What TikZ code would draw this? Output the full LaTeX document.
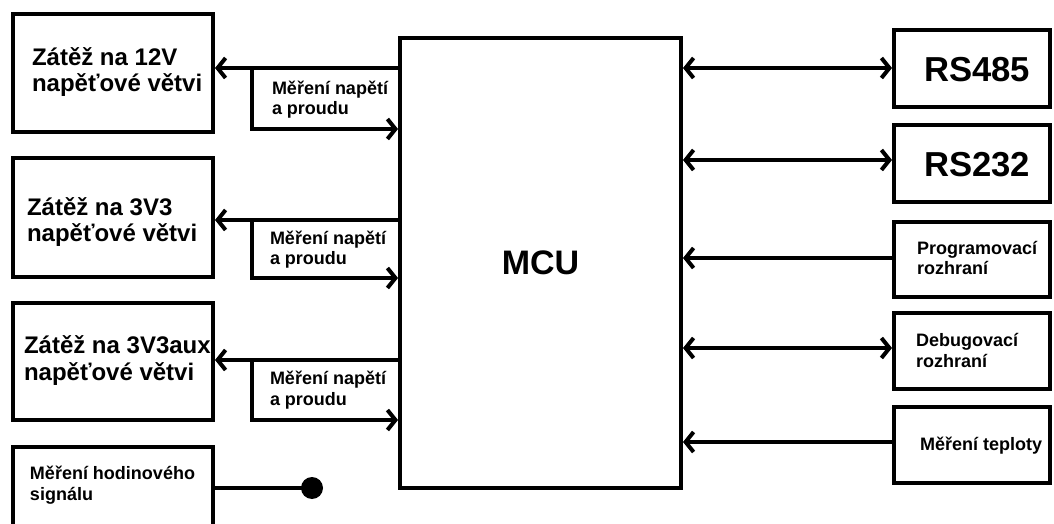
\documentclass[tikz,border=0pt]{standalone}
\usepackage{fontspec}
\setmainfont{Liberation Sans}
\usetikzlibrary{arrows.meta,fit}
\begin{document}
\begin{tikzpicture}[x=0.75pt,y=-0.75pt,line width=3pt,
  box/.style={draw,line width=3pt,inner sep=0pt},
  bigtxt/.style={font=\bfseries\fontsize{18pt}{20pt}\selectfont,anchor=base west,inner sep=0pt,align=left},
  smalltxt/.style={font=\bfseries\fontsize{13.5pt}{15.5pt}\selectfont,anchor=base west,inner sep=0pt,align=left},
  hugetxt/.style={font=\bfseries\fontsize{26pt}{30pt}\selectfont,anchor=base west,inner sep=0pt},
  tip/.style={-{Straight Barb[length=6pt,width=15pt]}},
  bitip/.style={{Straight Barb[length=6pt,width=15pt]}-{Straight Barb[length=6pt,width=15pt]}}]
\useasboundingbox (0,0) rectangle (1054,524);
% MCU
\node[box,fit={(400,38) (681,488)}] (mcu) {};
\node[font=\bfseries\fontsize{25.5pt}{30pt}\selectfont,inner sep=0pt] (mcutxt) at (mcu.center) {MCU};
% left boxes
\node[box,fit={(13,14) (213,132)}] (b1) {};
\node[box,fit={(13,158) (213,277)}] (b2) {};
\node[box,fit={(13,303) (213,420)}] (b3) {};
\node[box,fit={(13,447) (213,540)}] (b4) {};
\node[bigtxt] (t1) at (30,92) {Zátěž na 12V\\napěťové větvi};
\node[bigtxt] (t2) at (25,242) {Zátěž na 3V3\\napěťové větvi};
\node[bigtxt] (t3) at (22,380) {Zátěž na 3V3aux\\napěťové větvi};
\node[smalltxt] (t4) at (28,500) {Měření hodinového\\signálu};
\node[smalltxt] (m1) at (270,115) {Měření napětí\\a proudu};
\node[smalltxt] (m2) at (268,265) {Měření napětí\\a proudu};
\node[smalltxt] (m3) at (268,405) {Měření napětí\\a proudu};
% right boxes
\node[box,fit={(894,30) (1050,107)}] (r1) {};
\node[box,fit={(894,125) (1050,202)}] (r2) {};
\node[box,fit={(894,222) (1050,297)}] (r3) {};
\node[box,fit={(894,313) (1050,389)}] (r4) {};
\node[box,fit={(894,407) (1050,483)}] (r5) {};
\node[hugetxt] (rt1) at (922,82) {RS485};
\node[hugetxt] (rt2) at (922,177) {RS232};
\node[smalltxt] (rt3) at (915,275) {Programovací\\rozhraní};
\node[smalltxt] (rt4) at (914,367) {Debugovací\\rozhraní};
\node[smalltxt] (rt5) at (918,450) {Měření teploty};
% junction coordinates
\coordinate (y1) at (0,68);   \coordinate (z1) at (252,129);
\coordinate (y2) at (0,220);  \coordinate (z2) at (252,278);
\coordinate (y3) at (0,360);  \coordinate (z3) at (252,420);
\coordinate (j1) at (252,68); \coordinate (j2) at (252,220); \coordinate (j3) at (252,360);
% left connectors
\draw[tip] (mcu.west |- y1) -- (b1.east |- y1);
\draw[tip] (j1) -- (z1) -- (mcu.west |- z1);
\draw[tip] (mcu.west |- y2) -- (b2.east |- y2);
\draw[tip] (j2) -- (z2) -- (mcu.west |- z2);
\draw[tip] (mcu.west |- y3) -- (b3.east |- y3);
\draw[tip] (j3) -- (z3) -- (mcu.west |- z3);
% clock
\coordinate (ck) at (312,488);
\draw (b4.east |- ck) -- (ck);
\fill (ck) circle[radius=11];
% right connectors
\coordinate (w1) at (0,68);  \coordinate (w2) at (0,160);
\coordinate (w3) at (0,258); \coordinate (w4) at (0,348); \coordinate (w5) at (0,442);
\draw[bitip] (mcu.east |- w1) -- (r1.west |- w1);
\draw[bitip] (mcu.east |- w2) -- (r2.west |- w2);
\draw[tip] (r3.west |- w3) -- (mcu.east |- w3);
\draw[bitip] (mcu.east |- w4) -- (r4.west |- w4);
\draw[tip] (r5.west |- w5) -- (mcu.east |- w5);
\end{tikzpicture}
\end{document}
